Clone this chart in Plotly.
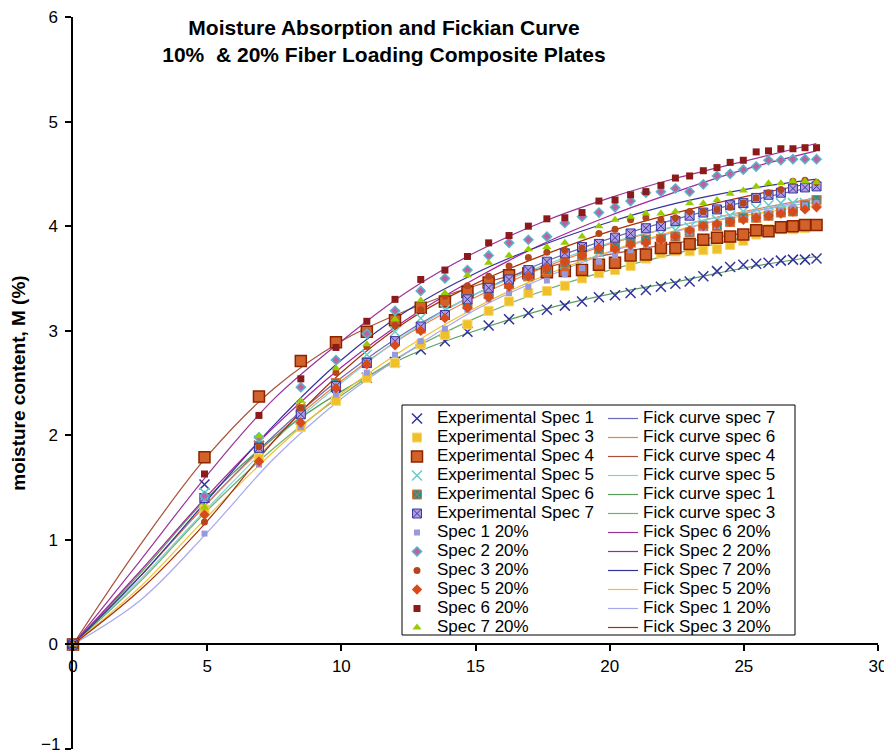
import plotly.graph_objects as go

# ---------------- data ----------------
x_exp = [0, 4.90, 6.93, 8.49, 9.80, 10.95, 12.00, 12.96, 13.86, 14.70, 15.49, 16.25, 16.97,
         17.66, 18.33, 18.97, 19.60, 20.20, 20.78, 21.35, 21.91, 22.45, 22.98, 23.49, 24.00,
         24.49, 24.98, 25.46, 25.92, 26.38, 26.83, 27.28, 27.71]

exp_spec1 = [0, 1.53, 1.90, 2.15, 2.38, 2.55, 2.70, 2.82, 2.90, 2.99, 3.05, 3.11, 3.17, 3.20, 3.24, 3.28, 3.32,
             3.34, 3.36, 3.39, 3.42, 3.45, 3.47, 3.52, 3.57, 3.61, 3.63, 3.64, 3.65, 3.67, 3.68, 3.68, 3.69]
exp_spec3 = [0, 1.29, 1.78, 2.08, 2.33, 2.55, 2.69, 2.87, 2.96, 3.06, 3.19, 3.28, 3.36, 3.38, 3.43, 3.50, 3.55,
             3.58, 3.62, 3.69, 3.74, 3.76, 3.76, 3.77, 3.78, 3.82, 3.86, 3.92, 3.97, 3.97, 3.97, 3.98, 4.00]
exp_spec4 = [0, 1.79, 2.37, 2.71, 2.89, 2.99, 3.10, 3.22, 3.28, 3.37, 3.46, 3.53, 3.55, 3.56, 3.57, 3.58, 3.63,
             3.65, 3.72, 3.73, 3.79, 3.79, 3.83, 3.87, 3.89, 3.90, 3.92, 3.96, 3.95, 3.99, 4.00, 4.01, 4.01]
exp_spec5 = [0, 1.45, 1.95, 2.27, 2.50, 2.77, 2.99, 3.12, 3.20, 3.30, 3.38, 3.45, 3.52, 3.58, 3.64, 3.70, 3.75,
             3.80, 3.84, 3.88, 3.92, 3.96, 3.99, 4.03, 4.06, 4.10, 4.14, 4.17, 4.20, 4.22, 4.22, 4.22, 4.23]
exp_spec6 = [0, 1.40, 1.90, 2.25, 2.50, 2.70, 2.90, 3.02, 3.15, 3.25, 3.35, 3.45, 3.52, 3.58, 3.65, 3.72, 3.78,
             3.80, 3.85, 3.87, 3.88, 3.90, 3.94, 4.00, 4.00, 4.04, 4.08, 4.08, 4.10, 4.13, 4.14, 4.20, 4.25]
exp_spec7 = [0, 1.40, 1.88, 2.20, 2.47, 2.69, 2.90, 3.04, 3.15, 3.30, 3.41, 3.49, 3.58, 3.66, 3.74, 3.80, 3.83,
             3.89, 3.93, 3.98, 4.00, 4.05, 4.10, 4.13, 4.16, 4.20, 4.22, 4.27, 4.30, 4.32, 4.36, 4.37, 4.38]
spec1_20 = [0, 1.06, 1.72, 2.08, 2.39, 2.60, 2.77, 2.90, 3.02, 3.20, 3.30, 3.36, 3.42, 3.48, 3.54, 3.60, 3.66,
            3.72, 3.77, 3.82, 3.86, 3.90, 3.94, 3.98, 4.00, 4.04, 4.07, 4.10, 4.13, 4.15, 4.18, 4.20, 4.22]
spec2_20 = [0, 1.42, 1.98, 2.46, 2.72, 2.97, 3.19, 3.38, 3.50, 3.58, 3.72, 3.84, 3.87, 3.90, 4.03, 4.09, 4.13,
            4.18, 4.24, 4.32, 4.33, 4.36, 4.33, 4.40, 4.48, 4.50, 4.54, 4.57, 4.63, 4.63, 4.64, 4.64, 4.64]
spec3_20 = [0, 1.17, 1.89, 2.26, 2.60, 2.85, 3.05, 3.20, 3.33, 3.43, 3.52, 3.62, 3.70, 3.75, 3.77, 3.79, 3.93,
            3.97, 4.06, 4.08, 4.06, 4.08, 4.14, 4.14, 4.16, 4.18, 4.22, 4.27, 4.32, 4.35, 4.43, 4.44, 4.42]
spec5_20 = [0, 1.24, 1.75, 2.12, 2.45, 2.68, 2.86, 3.00, 3.12, 3.22, 3.32, 3.42, 3.52, 3.60, 3.66, 3.72, 3.79,
            3.78, 3.82, 3.84, 3.87, 3.90, 3.96, 4.00, 4.02, 4.04, 4.06, 4.08, 4.10, 4.12, 4.14, 4.16, 4.18]
spec6_20 = [0, 1.63, 2.19, 2.54, 2.84, 3.09, 3.30, 3.49, 3.58, 3.71, 3.84, 3.91, 4.00, 4.07, 4.08, 4.13, 4.24,
            4.25, 4.30, 4.33, 4.39, 4.46, 4.48, 4.53, 4.56, 4.61, 4.63, 4.71, 4.72, 4.74, 4.74, 4.75, 4.75]
spec7_20 = [0, 1.31, 1.99, 2.33, 2.64, 2.87, 3.11, 3.29, 3.36, 3.53, 3.65, 3.72, 3.78, 3.80, 3.84, 3.90, 4.00,
            4.06, 4.09, 4.12, 4.12, 4.14, 4.22, 4.22, 4.25, 4.31, 4.34, 4.38, 4.41, 4.41, 4.43, 4.43, 4.42]

x_fick = [0, 2.5, 5, 7.5, 10, 12.5, 15, 17.5, 20, 22.5, 25, 27.7]
fick_curve7 = [0, 0.65, 1.35, 2.00, 2.55, 3.00, 3.35, 3.65, 3.88, 4.07, 4.23, 4.38]
fick_curve6 = [0, 0.65, 1.35, 1.98, 2.52, 2.97, 3.32, 3.60, 3.83, 4.00, 4.14, 4.27]
fick_curve4 = [0, 0.95, 1.80, 2.45, 2.90, 3.20, 3.43, 3.60, 3.73, 3.84, 3.93, 4.02]
fick_curve5 = [0, 0.62, 1.30, 1.95, 2.50, 2.98, 3.35, 3.62, 3.84, 4.00, 4.13, 4.23]
fick_curve1 = [0, 0.68, 1.40, 1.98, 2.42, 2.76, 3.00, 3.20, 3.35, 3.47, 3.60, 3.71]
fick_curve3 = [0, 0.60, 1.28, 1.88, 2.38, 2.80, 3.12, 3.38, 3.58, 3.74, 3.89, 4.02]
fick_s6_20 = [0, 0.80, 1.62, 2.35, 2.90, 3.38, 3.75, 4.04, 4.27, 4.46, 4.62, 4.79]
fick_s2_20 = [0, 0.70, 1.42, 2.08, 2.65, 3.12, 3.50, 3.83, 4.10, 4.33, 4.54, 4.72]
fick_s7_20 = [0, 0.65, 1.38, 2.10, 2.72, 3.20, 3.55, 3.82, 4.04, 4.22, 4.35, 4.45]
fick_s5_20 = [0, 0.55, 1.22, 1.85, 2.40, 2.85, 3.22, 3.52, 3.76, 3.96, 4.10, 4.20]
fick_s1_20 = [0, 0.42, 1.07, 1.78, 2.35, 2.80, 3.20, 3.50, 3.75, 3.95, 4.12, 4.26]
fick_s3_20 = [0, 0.52, 1.18, 1.95, 2.60, 3.10, 3.45, 3.72, 3.95, 4.13, 4.28, 4.42]

x_ticks = [0, 5, 10, 15, 20, 25, 30]
y_ticks = [-1, 0, 1, 2, 3, 4, 5, 6]
# the bottom label is drawn slightly raised (as in the original) so it is not cut by the page edge
y_ticktext = ["", "0", "1", "2", "3", "4", "5", "6"]
y_bottom_label = "\u22121"

FONT = "Liberation Sans, Arial, sans-serif"
LEG_FS = 17

def lname(t):
    return f'<span style="font-size:{LEG_FS}px">{t}</span>'

fig = go.Figure()

# Fick curves (lines) -> legend2
fick_series = [
    ("Fick curve spec 7", fick_curve7, "#6B6BB5"),
    ("Fick curve spec 6", fick_curve6, "#E8804A"),
    ("Fick curve spec 4", fick_curve4, "#A8503A"),
    ("Fick curve spec 5", fick_curve5, "#88D0D0"),
    ("Fick curve spec 1", fick_curve1, "#5A9E5A"),
    ("Fick curve spec 3", fick_curve3, "#6FAF6F"),
    ("Fick Spec 6 20%", fick_s6_20, "#993399"),
    ("Fick Spec 2 20%", fick_s2_20, "#A3249E"),
    ("Fick Spec 7 20%", fick_s7_20, "#333399"),
    ("Fick Spec 5 20%", fick_s5_20, "#F0C030"),
    ("Fick Spec 1 20%", fick_s1_20, "#A8A8EC"),
    ("Fick Spec 3 20%", fick_s3_20, "#A3300A"),
]
for name, ys, col in fick_series:
    fig.add_trace(go.Scatter(
        x=x_fick, y=ys, mode="lines", name=lname(name), legend="legend2",
        line=dict(color=col, width=1.2, shape="spline", smoothing=1.0),
        cliponaxis=False))

# experimental points -> legend
marker_series = [
    ("Experimental Spec 1", exp_spec1, dict(symbol="x-thin", size=10, color="#333399",
                                            line=dict(color="#333399", width=1.5))),
    ("Experimental Spec 3", exp_spec3, dict(symbol="square", size=9, color="#F0C02A",
                                            line=dict(color="#F5D76A", width=1))),
    ("Experimental Spec 4", exp_spec4, dict(symbol="square", size=11, color="#D2622A",
                                            line=dict(color="#8B2500", width=1.5))),
    ("Experimental Spec 5", exp_spec5, dict(symbol="x-thin", size=10, color="#66CCCC",
                                            line=dict(color="#66CCCC", width=1.5))),
    ("Experimental Spec 6", exp_spec6, dict(symbol="square-x", size=9, color="#2E8B8B",
                                            line=dict(color="#E07030", width=1))),
    ("Experimental Spec 7", exp_spec7, dict(symbol="square-x", size=9, color="#B19CE0",
                                            line=dict(color="#3A3AA0", width=1))),
    ("Spec 1 20%", spec1_20, dict(symbol="square", size=6, color="#9999DD")),
    ("Spec 2 20%", spec2_20, dict(symbol="diamond", size=7, color="#C060A0",
                                  line=dict(color="#55B5CC", width=1.5))),
    ("Spec 3 20%", spec3_20, dict(symbol="circle", size=7, color="#B5451B")),
    ("Spec 5 20%", spec5_20, dict(symbol="diamond", size=8, color="#D94A1A")),
    ("Spec 6 20%", spec6_20, dict(symbol="square", size=7, color="#8B1A1A")),
    ("Spec 7 20%", spec7_20, dict(symbol="triangle-up", size=8, color="#99CC00")),
]
for name, ys, mk in marker_series:
    fig.add_trace(go.Scatter(
        x=x_exp, y=ys, mode="markers", name=lname(name), legend="legend",
        marker=mk, cliponaxis=False))

# page offset: the page body adds 8px around the figure
OFF = 8
PAGE_W, PAGE_H = 892, 755
W, H = PAGE_W - OFF, PAGE_H - OFF
# plot area in page pixels: x 73..878, y 17..749
L, R, T, B = 73 - OFF, PAGE_W - 878, 17 - OFF, PAGE_H - 749
PW, PH = W - L - R, H - T - B

def px_x(p):  # page pixel -> paper x
    return (p - OFF - L) / PW

def px_y(p):  # page pixel -> paper y
    return (H - B - (p - OFF)) / PH

fig.add_shape(type="rect", xref="paper", yref="paper",
              x0=px_x(402), x1=px_x(795), y0=px_y(635), y1=px_y(405),
              line=dict(color="black", width=1), fillcolor="white", layer="below")

fig.add_annotation(text=y_bottom_label, xref="paper", x=0, yref="y", y=y_ticks[0],
                   xanchor="right", yanchor="middle", xshift=-11, yshift=5,
                   showarrow=False, font=dict(size=17, family=FONT, color="black"))

fig.update_layout(
    width=W, height=H,
    margin=dict(l=L, r=R, t=T, b=B, autoexpand=False),
    paper_bgcolor="white", plot_bgcolor="white",
    font=dict(family=FONT, size=16, color="black"),
    title=dict(text="<b>Moisture Absorption and Fickian Curve<br>10%  & 20% Fiber Loading Composite Plates</b>",
               x=(384 - OFF) / W, xanchor="center", xref="container",
               y=1 - 27 / H, yanchor="middle", yref="container",
               font=dict(size=21, family=FONT, color="black")),
    xaxis=dict(range=[0, 30], tickvals=x_ticks, showgrid=False, zeroline=False,
               showline=True, linecolor="black", linewidth=1.5,
               ticks="outside", ticklen=6, tickwidth=1.5, tickcolor="black",
               anchor="free", position=1 / 7, automargin=False,
               ticklabeloverflow="allow",
               tickfont=dict(size=17, family=FONT)),
    yaxis=dict(range=[-1, 6], tickvals=y_ticks, ticktext=y_ticktext,
               showgrid=False, zeroline=False,
               showline=True, linecolor="black", linewidth=1.5,
               ticks="outside", ticklen=6, tickwidth=1.5, tickcolor="black",
               ticklabelstandoff=4, ticklabeloverflow="allow",
               tickfont=dict(size=17, family=FONT), automargin=False,
               title=dict(text="<b>moisture content, M (%)</b>", standoff=26,
                          font=dict(size=19, family=FONT))),
    legend=dict(x=px_x(397), xanchor="left", y=px_y(404), yanchor="top",
                bgcolor="rgba(0,0,0,0)", borderwidth=0, font=dict(size=12, family=FONT),
                itemwidth=30, tracegroupgap=0),
    legend2=dict(x=px_x(603), xanchor="left", y=px_y(404), yanchor="top",
                 bgcolor="rgba(0,0,0,0)", borderwidth=0, font=dict(size=12, family=FONT),
                 itemwidth=30, tracegroupgap=0),
    showlegend=True,
)

fig.write_html("out.html")
